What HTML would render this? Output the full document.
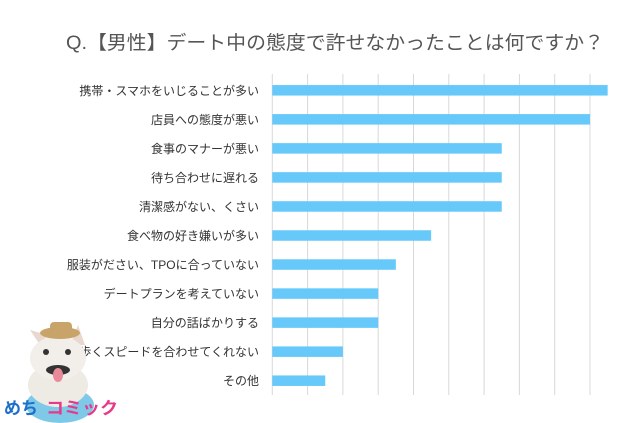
<!DOCTYPE html>
<html><head><meta charset="utf-8"><style>
body{margin:0;background:#fff;}
svg{display:block;font-family:"Liberation Sans","Noto Sans CJK JP",sans-serif;}
</style></head><body>
<svg id="c" width="640" height="423" viewBox="0 0 640 423">
<text x="66" y="49" font-size="19" fill="#555" textLength="538" lengthAdjust="spacingAndGlyphs">Q.【男性】デート中の態度で許せなかったことは何ですか？</text>
<g id="grid"></g>
<g id="bars"></g>
<g id="labels"></g>
<g>
<ellipse cx="60" cy="405" rx="34" ry="18" fill="#7ec8e8"/>
<ellipse cx="58" cy="385" rx="30" ry="22" fill="#eeeae4"/>
<polygon points="30,330 40,345 48,335" fill="#e9d8d0"/>
<polygon points="78,325 70,345 85,345" fill="#e9d8d0"/>
<ellipse cx="58" cy="358" rx="28" ry="22" fill="#f2efea"/>
<ellipse cx="60" cy="333" rx="20" ry="6" fill="#c9a46a"/>
<rect x="50" y="322" width="22" height="10" rx="4" fill="#c9a46a"/>
<circle cx="46" cy="352" r="3" fill="#333"/><circle cx="68" cy="352" r="3" fill="#333"/>
<ellipse cx="58" cy="370" rx="12" ry="5" fill="#333"/>
<ellipse cx="58" cy="375" rx="5" ry="7" fill="#e88a9a"/>
</g>
<text x="4" y="414" font-size="17" font-weight="bold" fill="#1d6fc9">めち</text>
<text x="46" y="414" font-size="17" font-weight="bold" fill="#e8388a" textLength="72" lengthAdjust="spacingAndGlyphs">コミック</text>
</svg>
<script>
const categories=["携帯・スマホをいじることが多い","店員への態度が悪い","食事のマナーが悪い","待ち合わせに遅れる","清潔感がない、くさい","食べ物の好き嫌いが多い","服装がださい、TPOに合っていない","デートプランを考えていない","自分の話ばかりする","歩くスピードを合わせてくれない","その他"];
const values=[19,18,13,13,13,9,7,6,6,4,3];
const gridTicks=[0,2,4,6,8,10,12,14,16,18];
const NS="http://www.w3.org/2000/svg";
const x0=272.3, unit=17.65, y0=90.3, step=29.04, bh=10.5;
const xs=v=>x0+v*unit, ys=i=>y0+i*step;
const g=document.getElementById('grid'),b=document.getElementById('bars'),l=document.getElementById('labels');
gridTicks.forEach(t=>{const e=document.createElementNS(NS,'line');


e.setAttribute('x1',xs(t));e.setAttribute('x2',xs(t));e.setAttribute('y1',74);e.setAttribute('y2',395);
e.setAttribute('stroke','#d8d8d8');e.setAttribute('stroke-width','1');g.appendChild(e);});
categories.forEach((c,i)=>{const r=document.createElementNS(NS,'rect');


r.setAttribute('x',x0);r.setAttribute('y',ys(i)-bh/2);r.setAttribute('width',xs(values[i])-x0);r.setAttribute('height',bh);r.setAttribute('fill','#66c9fa');b.appendChild(r);
const t=document.createElementNS(NS,'text');


t.setAttribute('x',259);t.setAttribute('y',ys(i)+4.5);t.setAttribute('text-anchor','end');t.setAttribute('font-size','12');t.setAttribute('fill','#333');t.textContent=c;l.appendChild(t);});
</script>
</body></html>
